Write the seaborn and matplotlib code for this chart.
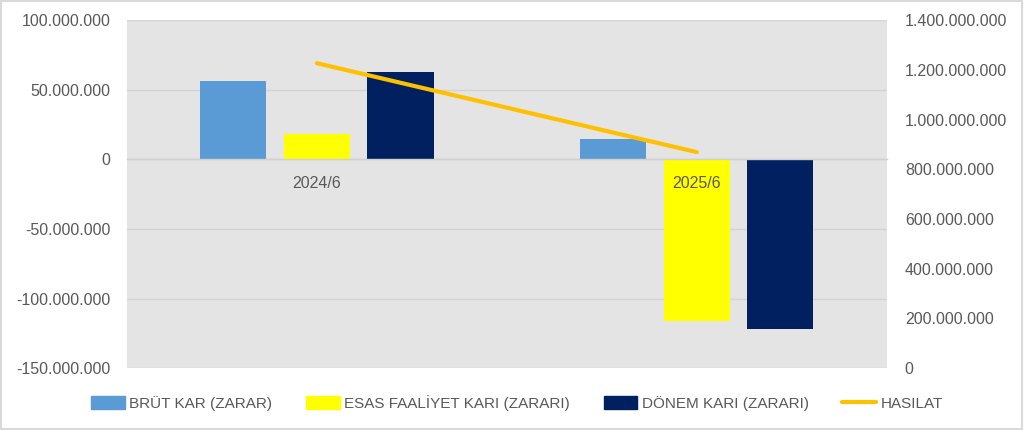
import numpy as np
import pandas as pd
import seaborn as sns
import matplotlib.pyplot as plt
from matplotlib.ticker import FuncFormatter, MultipleLocator, FixedLocator
from matplotlib.patches import Rectangle
from matplotlib.lines import Line2D

# veriler
periods = ['2024/6', '2025/6']
brut_kar = [56000000, 14500000]
esas_faaliyet = [18500000, -116500000]
donem_kari = [62500000, -122000000]
hasilat = [1227000000, 869000000]

series_names = ['BRÜT KAR (ZARAR)', 'ESAS FAALİYET KARI (ZARARI)', 'DÖNEM KARI (ZARARI)']
line_name = 'HASILAT'
bar_colors = ['#5B9BD5', '#FFFF00', '#002060']
line_color = '#FFC000'
text_color = '#595959'

df = pd.DataFrame({
    'donem': periods * 3,
    'seri': np.repeat(series_names, len(periods)),
    'deger': brut_kar + esas_faaliyet + donem_kari,
})

sns.set_theme(style='white')
plt.rcParams['font.family'] = ['Liberation Sans', 'DejaVu Sans']

fig = plt.figure(figsize=(10.24, 4.3), dpi=100)
ax = fig.add_axes([0.124, 0.144, 0.742, 0.809])
ax.set_facecolor('#E4E4E4')

sns.barplot(data=df, x='donem', y='deger', hue='seri', palette=bar_colors,
            width=0.66, gap=0.21, ax=ax, legend=False, saturation=1, linewidth=0)

fmt = FuncFormatter(lambda v, p: f'{v:,.0f}'.replace(',', '.'))

ax.set_ylim(-150000000, 100000000)
ax.yaxis.set_major_locator(MultipleLocator(50000000))
ax.yaxis.set_major_formatter(fmt)
ax.set_xlim(-0.5, 1.5)
ax.grid(axis='y', color='#D4D4D4', linewidth=1)
ax.set_axisbelow(True)
ax.xaxis.set_zorder(3)  # 2025/6 etiketi çubuğun üstünde kalsın
for s in ['top', 'right', 'left']:
    ax.spines[s].set_visible(False)
ax.spines['bottom'].set_position(('data', 0))
ax.spines['bottom'].set_color('#D0D0D0')
ax.spines['bottom'].set_linewidth(1)
ax.set_xlabel('')
ax.set_ylabel('')
ax.tick_params(axis='x', length=0, pad=12, labelsize=11.5, labelcolor=text_color)
ax.xaxis.set_minor_locator(FixedLocator([0.5]))
ax.tick_params(axis='x', which='minor', length=5, color='#D0D0D0', direction='out')
ax.tick_params(axis='y', length=0, pad=12, labelsize=11.5, labelcolor=text_color)

# sağ eksen: hasılat
ax2 = ax.twinx()
sns.lineplot(x=np.arange(len(periods)), y=hasilat, ax=ax2, color=line_color,
             linewidth=3, legend=False)
ax2.set_ylim(0, 1400000000)
ax2.yaxis.set_major_locator(MultipleLocator(200000000))
ax2.yaxis.set_major_formatter(fmt)
ax2.tick_params(axis='y', length=0, pad=13, labelsize=11.5, labelcolor=text_color)
for s in ax2.spines.values():
    s.set_visible(False)
ax2.set_ylabel('')
ax2.set_xlim(-0.5, 1.5)

# gösterge
handles = [Rectangle((0, 0), 1, 1, color=c) for c in bar_colors]
handles.append(Line2D([0], [0], color=line_color, linewidth=3))
fig.legend(handles, series_names + [line_name], loc='center', bbox_to_anchor=(0.505, 0.063),
           ncol=4, frameon=False, fontsize=11, labelcolor=text_color,
           handlelength=2.2, handleheight=0.9, handletextpad=0.3, columnspacing=2.2)

# dış çerçeve
fig.patches.append(Rectangle((0.001, 0.002), 0.997, 0.995, transform=fig.transFigure,
                             fill=False, edgecolor='#D9D9D9', linewidth=1.5))

plt.savefig('out.png', dpi=100)
